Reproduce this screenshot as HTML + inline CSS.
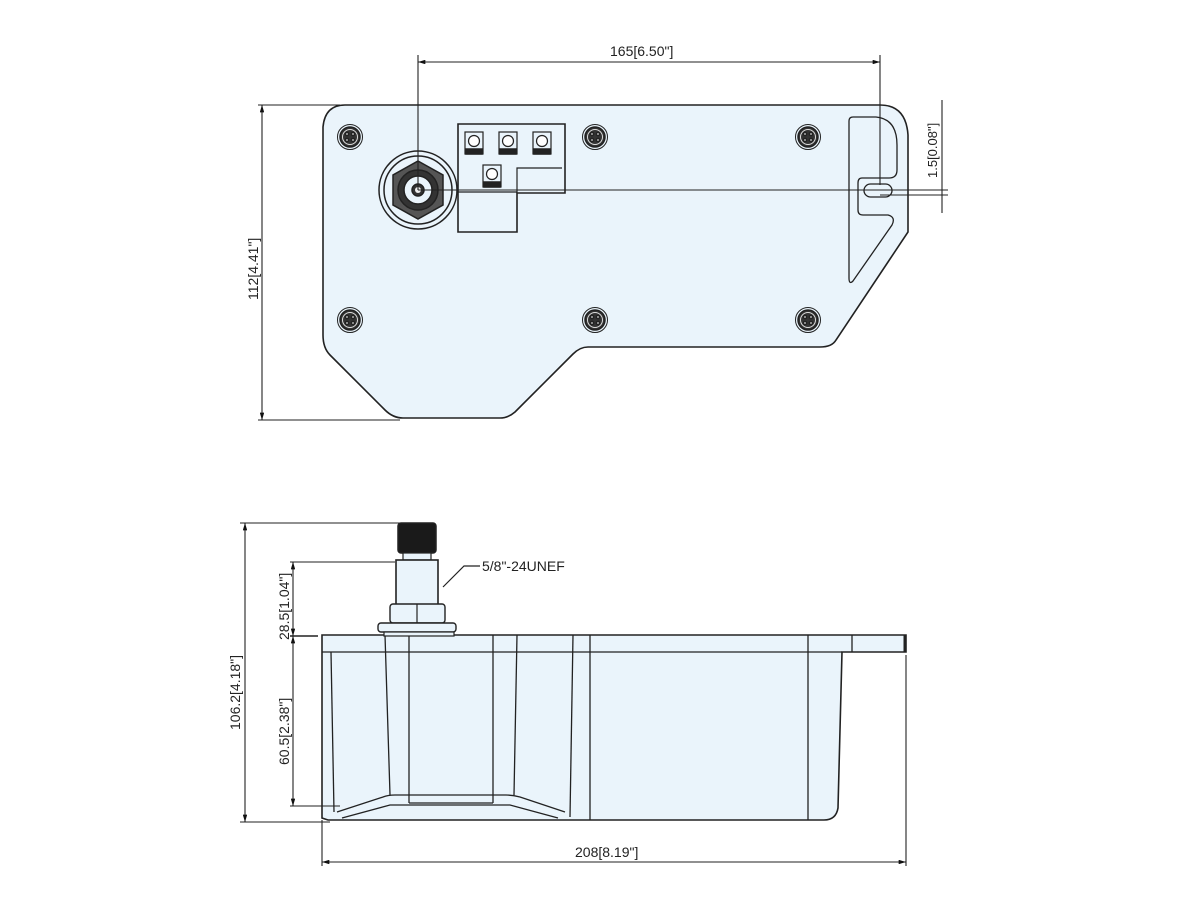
<!DOCTYPE html>
<html><head><meta charset="utf-8"><style>
html,body{margin:0;padding:0;background:#fff;}
svg{display:block;}
text{font-family:"Liberation Sans",Arial,sans-serif;fill:#222;}
</style></head><body>
<svg width="1200" height="900" viewBox="0 0 1200 900" xmlns="http://www.w3.org/2000/svg">
<defs>
<marker id="a" viewBox="0 0 10 6" refX="10" refY="3" markerWidth="8" markerHeight="4" orient="auto-start-reverse"><path d="M0,0L10,3L0,6z" fill="#111"/></marker>
<g id="screw"><circle r="12.5" fill="#eaf4fb" stroke="#222" stroke-width="1"/><circle r="10" fill="#333"/><circle r="7.5" fill="none" stroke="#ddd" stroke-width="1"/><circle cx="-3" cy="-3" r="1.6" fill="#ddd"/><circle cx="3" cy="-3" r="1.6" fill="#ddd"/><circle cx="-3" cy="3" r="1.6" fill="#ddd"/><circle cx="3" cy="3" r="1.6" fill="#ddd"/></g>
<g id="term"><rect x="-9" y="-11" width="18" height="22" fill="#eaf4fb" stroke="#222" stroke-width="1.2"/><circle cy="-2" r="5.5" fill="#fff" stroke="#222" stroke-width="1.2"/><rect x="-8" y="6" width="16" height="5" fill="#222"/></g>
</defs>
<g stroke="#222" stroke-width="1.5" fill="none">
<path d="M345,105 L880,105 Q906,105 908,135 L908,232 L836,340 Q832,347 820,347 L588,347 Q580,347 573,354 L515,412 Q508,418 500,418 L403,418 Q393,418 385,410 L330,355 Q323,348 323,335 L323,127 Q325,105 345,105 Z" fill="#eaf4fb" stroke-width="1.6"/>
<path d="M853,117 L876,117 Q897,119 897,145 L897,170 Q897,178 889,178 L862,178 Q858,178 858,183 L858,210 Q858,215 863,215 L888,215 Q896,217 892,225 L853,281 Q849,285 849,278 L849,121 Q849,117 853,117 Z" stroke-width="1.3"/>
<rect x="864" y="184" width="28" height="13" rx="6.5" stroke-width="1.3"/>
<use href="#screw" x="350" y="137"/><use href="#screw" x="595" y="137"/><use href="#screw" x="808" y="137"/>
<use href="#screw" x="350" y="320"/><use href="#screw" x="595" y="320"/><use href="#screw" x="808" y="320"/>
<circle cx="418" cy="190" r="39" fill="#eaf4fb"/><circle cx="418" cy="190" r="34"/>
<polygon points="418,161 443,175 443,205 418,219 393,205 393,175" fill="#555" stroke="#222"/>
<circle cx="418" cy="190" r="20" fill="#333"/><circle cx="418" cy="190" r="14" fill="#eaf4fb"/><circle cx="418" cy="190" r="6" fill="#333"/><circle cx="418" cy="190" r="3" fill="#eee" stroke="none"/>
<path d="M458,124 L565,124 L565,193 L517,193 L517,232 L458,232 Z" fill="#eaf4fb" stroke-width="1.6"/>
<path d="M517,193 L517,168 L562,168" stroke-width="1.2"/>
<path d="M458,192 L517,192" stroke-width="1.2"/>
<use href="#term" x="474" y="143"/><use href="#term" x="508" y="143"/><use href="#term" x="542" y="143"/><use href="#term" x="492" y="176"/>
<g stroke-width="1.1">
<line x1="418" y1="55" x2="418" y2="190"/><line x1="880" y1="55" x2="880" y2="185"/>
<line x1="418" y1="62" x2="880" y2="62" marker-start="url(#a)" marker-end="url(#a)"/>
<line x1="418" y1="190" x2="948" y2="190"/><line x1="880" y1="195" x2="948" y2="195"/>
<line x1="942" y1="100" x2="942" y2="213"/>
<line x1="258" y1="105" x2="340" y2="105"/><line x1="258" y1="420" x2="400" y2="420"/>
<line x1="262" y1="105" x2="262" y2="420" marker-start="url(#a)" marker-end="url(#a)"/>
</g>
<path d="M322,635 L906,635 L906,652 L842,652 L838,808 Q836,820 824,820 L328,820 L322,818 Z" fill="#eaf4fb" stroke-width="1.6"/>
<line x1="322" y1="652" x2="842" y2="652" stroke-width="1.2"/>
<g stroke-width="1.3">
<line x1="331" y1="652" x2="334" y2="812"/>
<line x1="385" y1="635" x2="390" y2="795"/><line x1="409" y1="635" x2="409" y2="803"/>
<line x1="493" y1="635" x2="493" y2="803"/><line x1="517" y1="635" x2="514" y2="795"/>
<line x1="573" y1="635" x2="570" y2="817"/><line x1="590" y1="635" x2="590" y2="820"/>
<line x1="808" y1="635" x2="808" y2="820"/><line x1="852" y1="635" x2="852" y2="652"/>
<path d="M337,812 L383,797 Q388,795 395,795 L506,795 Q513,795 520,797 L565,812"/>
<path d="M342,818 L390,805 L510,805 L558,818"/>
<line x1="409" y1="803" x2="493" y2="803"/>
</g>
<line x1="905" y1="635" x2="905" y2="652" stroke-width="3"/>
<rect x="398" y="523" width="38" height="30" rx="3" fill="#1a1a1a"/>
<rect x="403" y="553" width="28" height="7" fill="#eaf4fb" stroke-width="1.2"/>
<rect x="396" y="560" width="42" height="45" fill="#eaf4fb" stroke-width="1.6"/>
<rect x="390" y="604" width="55" height="19" rx="3" fill="#eaf4fb" stroke-width="1.4"/>
<line x1="417" y1="604" x2="417" y2="623" stroke-width="1.2"/>
<rect x="378" y="623" width="78" height="9" rx="3" fill="#eaf4fb" stroke-width="1.4"/>
<rect x="384" y="632" width="70" height="4" fill="#eaf4fb" stroke-width="1.2"/>
<path d="M443,587 L464,566 L480,566" stroke-width="1.2"/>
<g stroke-width="1.1">
<line x1="240" y1="523" x2="405" y2="523"/><line x1="240" y1="822" x2="330" y2="822"/>
<line x1="245" y1="523" x2="245" y2="822" marker-start="url(#a)" marker-end="url(#a)"/>
<line x1="290" y1="562" x2="395" y2="562"/><line x1="290" y1="806" x2="340" y2="806"/>
<line x1="293" y1="562" x2="293" y2="636" marker-start="url(#a)" marker-end="url(#a)"/>
<line x1="293" y1="636" x2="293" y2="806" marker-start="url(#a)" marker-end="url(#a)"/>
<line x1="290" y1="636" x2="318" y2="636" stroke-width="1.6"/>
<line x1="322" y1="820" x2="322" y2="866"/><line x1="906" y1="655" x2="906" y2="866"/>
<line x1="322" y1="862" x2="906" y2="862" marker-start="url(#a)" marker-end="url(#a)"/>
</g>
</g>
<text x="610" y="56" font-size="14">165[6.50"]</text>
<text transform="translate(258,300) rotate(-90)" font-size="14">112[4.41"]</text>
<text transform="translate(937,178) rotate(-90)" font-size="13">1.5[0.08"]</text>
<text x="482" y="571" font-size="14">5/8"-24UNEF</text>
<text transform="translate(240,730) rotate(-90)" font-size="14">106.2[4.18"]</text>
<text transform="translate(289,640) rotate(-90)" font-size="14">28.5[1.04"]</text>
<text transform="translate(289,765) rotate(-90)" font-size="14">60.5[2.38"]</text>
<text x="575" y="857" font-size="14">208[8.19"]</text>
</svg>
</body></html>
